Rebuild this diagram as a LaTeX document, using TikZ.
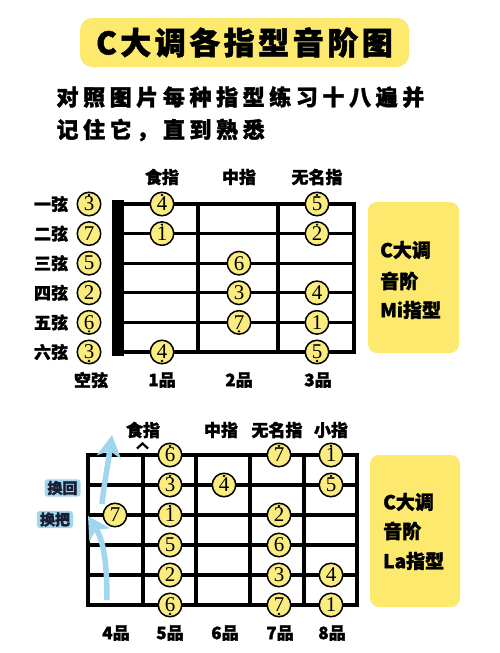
\documentclass[tikz,border=0pt]{standalone}
\usepackage{fontspec}
\setmainfont{Liberation Serif}
\newfontfamily\cjk{Noto Sans CJK SC}[BoldFeatures={FakeBold=1.6}]
\usetikzlibrary{arrows.meta}
\definecolor{boxy}{RGB}{252,233,110}
\definecolor{notey}{RGB}{251,236,128}
\definecolor{skyb}{RGB}{160,215,238}
\definecolor{navy}{RGB}{25,30,50}
\newcommand\sbx[2]{\makebox[#1]{#2}}
\newcommand\cs[1]{\makebox[26.6pt]{#1}}
\tikzset{
  note/.style={circle, draw=black, line width=1.5pt, fill=notey, minimum size=23.5pt, inner sep=0pt, font=\fontsize{21}{21}\selectfont},
  board/.style={line width=3.2pt, line cap=rect},
  lbl/.style={inner sep=0pt, font=\cjk\bfseries\fontsize{17}{17}\selectfont},
  sidetxt/.style={inner sep=0pt, anchor=west, font=\cjk\bfseries\fontsize{19}{19}\selectfont},
  bluetag/.style={fill=skyb, rounded corners=3pt, inner xsep=3pt, inner ysep=1.5pt, text=navy, font=\cjk\bfseries\fontsize{15}{15}\selectfont},
  skyarrow/.style={draw=skyb, line width=5.5pt, -{Stealth[length=22pt, width=24pt, inset=6pt]}}
}
\begin{document}
\begin{tikzpicture}[x=1pt,y=-1pt]
\fill[white] (0,0) rectangle (500,653);
\useasboundingbox (0,0) rectangle (500,653);

% title
\node[fill=boxy, rounded corners=12pt, minimum width=329pt, minimum height=49pt, inner sep=0pt,
      font=\cjk\bfseries\fontsize{31}{31}\selectfont] (title) at (244.5,42.5)
  {\sbx{24pt}{C}\sbx{34.5pt}{大}\sbx{34.5pt}{调}\sbx{34.5pt}{各}\sbx{34.5pt}{指}\sbx{34.5pt}{型}\sbx{34.5pt}{音}\sbx{34.5pt}{阶}\sbx{34.5pt}{图}};

% subtitle
\node[inner sep=0pt, anchor=west, font=\cjk\bfseries\fontsize{22}{22}\selectfont] (sub1) at (54,97)
  {\cs{对}\cs{照}\cs{图}\cs{片}\cs{每}\cs{种}\cs{指}\cs{型}\cs{练}\cs{习}\cs{十}\cs{八}\cs{遍}\cs{并}};
\node[inner sep=0pt, anchor=west, font=\cjk\bfseries\fontsize{22}{22}\selectfont] (sub2) at (54,130)
  {\cs{记}\cs{住}\cs{它}\cs{，}\cs{直}\cs{到}\cs{熟}\cs{悉}};

% ===== top fretboard (Mi) =====
\foreach \i in {0,...,5} \draw[board] (118,{204+29.6*\i}) -- (354,{204+29.6*\i});
\foreach \x in {198,278,354} \draw[board] (\x,204) -- (\x,352);
\fill (112,200) rectangle (124,356);

\node[lbl] (tf1) at (162,177) {食指};
\node[lbl] (tf2) at (239,177) {中指};
\node[lbl] (tf3) at (317,177) {无名指};
\node[lbl] (tb0) at (91,380) {空弦};
\node[lbl] (tb1) at (162,380) {1品};
\node[lbl] (tb2) at (239,380) {2品};
\node[lbl] (tb3) at (318,380) {3品};
\foreach \t [count=\i from 0] in {一弦,二弦,三弦,四弦,五弦,六弦}
  \node[lbl] (sl\i) at (51,{204+29.6*\i}) {\t};

\foreach \s/\c/\d/\o in {1/0/3/1, 1/1/4/1, 1/3/5/1,
  2/0/7/0, 2/1/1/1, 2/3/2/1,
  3/0/5/0, 3/2/6/0,
  4/0/2/0, 4/2/3/0, 4/3/4/0,
  5/0/6/-1, 5/2/7/-1, 5/3/1/0,
  6/0/3/-1, 6/1/4/-1, 6/3/5/-1}{
  \pgfmathsetmacro\yy{204+29.6*(\s-1)}
  \pgfmathsetmacro\xx{{89,162,239,317}[\c]}
  \node[note] (t\s c\c) at (\xx,\yy) {\d};
  \ifnum\o=1 \fill (t\s c\c.center) ++(0,-9) circle (1.3pt);\fi
  \ifnum\o=-1 \fill (t\s c\c.center) ++(0,9) circle (1.3pt);\fi
}

\node[fill=boxy, rounded corners=9pt, minimum width=91pt, minimum height=151pt, inner sep=0pt] (mibox) at (413.5,277.5) {};
\node[sidetxt] (mi1) at (380,250) {C大调};
\node[sidetxt] (mi2) at (380,281) {音阶};
\node[sidetxt] (mi3) at (380,310) {Mi指型};

% ===== bottom fretboard (La) =====
\foreach \i in {0,...,5} \draw[board] (88,{455+30*\i}) -- (357,{455+30*\i});
\foreach \x in {88,143,196,250,304,357} \draw[board] (\x,455) -- (\x,605);

\node[lbl] (bf1) at (143,430) {食指};
\node[lbl] (bf2) at (221,430) {中指};
\node[lbl] (bf3) at (277,430) {无名指};
\node[lbl] (bf4) at (331,430) {小指};
\draw[line width=2.2pt] (137,448.5) -- (142.5,443.5) -- (148,448.5);
\node[lbl] (bb4) at (116,633) {4品};
\node[lbl] (bb5) at (170,633) {5品};
\node[lbl] (bb6) at (225,633) {6品};
\node[lbl] (bb7) at (280,633) {7品};
\node[lbl] (bb8) at (332,633) {8品};

\foreach \s/\c/\d/\o in {1/5/6/1, 1/7/7/1, 1/8/1/1,
  2/5/3/1, 2/6/4/1, 2/8/5/1,
  3/4/7/0, 3/5/1/1, 3/7/2/1,
  4/5/5/0, 4/7/6/0,
  5/5/2/0, 5/7/3/0, 5/8/4/0,
  6/5/6/-1, 6/7/7/-1, 6/8/1/0}{
  \pgfmathsetmacro\yy{455+30*(\s-1)}
  \pgfmathsetmacro\xx{{115,170,224,279,331}[\c-4]}
  \node[note] (b\s c\c) at (\xx,\yy) {\d};
  \ifnum\o=1 \fill (b\s c\c.center) ++(0,-9) circle (1.3pt);\fi
  \ifnum\o=-1 \fill (b\s c\c.center) ++(0,9) circle (1.3pt);\fi
}

% arrows
\coordinate (a1s) at (102,504);
\coordinate (a1e) at (112,435);
\coordinate (a2s) at (107,600);
\coordinate (a2e) at (88,516);
\draw[skyarrow] (a1s) .. controls (104,485) and (107,470) .. (a1e);
\draw[skyarrow] (a2s) .. controls (107,560) and (103,540) .. (a2e);

\node[bluetag] (huanhui) at (62.5,488) {换回};
\node[bluetag] (huanba) at (55,519.5) {换把};

\node[fill=boxy, rounded corners=9pt, minimum width=90pt, minimum height=152pt, inner sep=0pt] (labox) at (415,531) {};
\node[sidetxt] (la1) at (383,502) {C大调};
\node[sidetxt] (la2) at (383,531) {音阶};
\node[sidetxt] (la3) at (383,561) {La指型};
\end{tikzpicture}
\end{document}
